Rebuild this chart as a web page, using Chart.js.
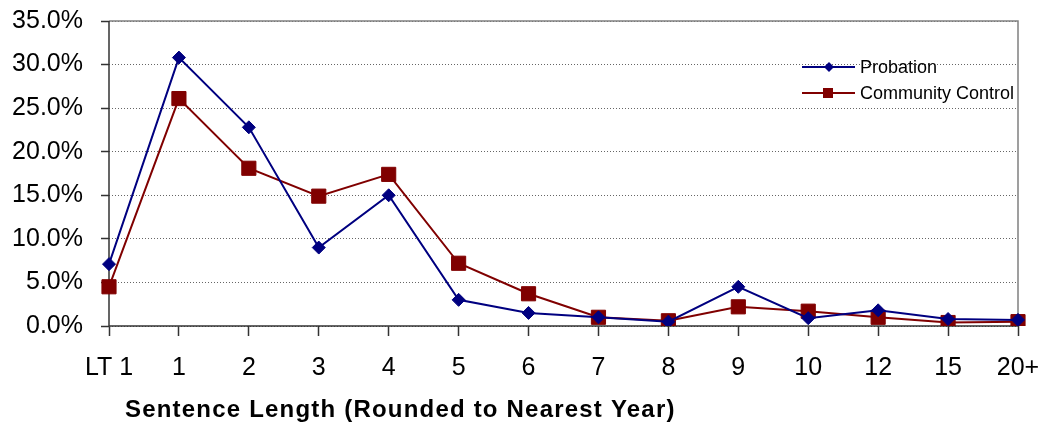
<!DOCTYPE html>
<html>
<head>
<meta charset="utf-8">
<script src="https://cdn.jsdelivr.net/npm/chart.js@4.4.0/dist/chart.umd.min.js"></script>
<style>
    html, body { margin: 0; padding: 0; background: #fff; }
    #wrap { width: 1041px; height: 423px; position: relative; }
</style>
</head>
<body>
<div id="wrap"><canvas id="sentence-chart"></canvas></div>
<script>
// Dados do gráfico
var categories = ['LT 1', '1', '2', '3', '4', '5', '6', '7', '8', '9', '10', '12', '15', '20+'];
var probation = [7.1, 30.8, 22.8, 9.0, 15.0, 3.0, 1.5, 1.0, 0.5, 4.5, 0.9, 1.8, 0.8, 0.7];
var communityControl = [4.5, 26.1, 18.1, 14.9, 17.4, 7.2, 3.7, 1.0, 0.6, 2.2, 1.7, 1.0, 0.4, 0.5];
var yTicks = [0, 5, 10, 15, 20, 25, 30, 35];
var seriesNames = ['Probation', 'Community Control'];
var axisTitle = 'Sentence Length (Rounded to Nearest Year)';

var FONT = 'Arial, "Liberation Sans", sans-serif';

/**
 * Zerar o espaço extra que as escalas pedem para os rótulos,
 * para que a área do gráfico dependa só do layout.padding
 */
function clearScalePadding(scale) {
    scale.paddingTop = 0;
    scale.paddingBottom = 0;
    scale.paddingLeft = 0;
    scale.paddingRight = 0;
}

/**
 * Moldura da área do gráfico (eixos e bordas), título do eixo e legenda
 */
var framePlugin = {
    id: 'frame',
    beforeDatasetsDraw: function(chart) {
        var a = chart.chartArea;
        var ctx = chart.ctx;
        ctx.save();
        ctx.setLineDash([]);
        // borda superior e direita em cinza
        ctx.strokeStyle = '#808080';
        ctx.lineWidth = 1.5;
        ctx.beginPath();
        ctx.moveTo(a.left, a.top);
        ctx.lineTo(a.right, a.top);
        ctx.lineTo(a.right, a.bottom);
        ctx.stroke();
        // eixos
        ctx.strokeStyle = '#333';
        ctx.lineWidth = 1.5;
        ctx.beginPath();
        ctx.moveTo(a.left, a.top);
        ctx.lineTo(a.left, a.bottom);
        ctx.lineTo(a.right, a.bottom);
        ctx.stroke();
        ctx.restore();
    },
    afterDraw: function(chart) {
        var ctx = chart.ctx;
        ctx.save();
        // título do eixo X
        ctx.fillStyle = '#000';
        ctx.font = 'bold 24px ' + FONT;
        ctx.letterSpacing = '1.2px';
        ctx.textAlign = 'left';
        ctx.textBaseline = 'alphabetic';
        ctx.fillText(axisTitle, 125, 417);
        ctx.letterSpacing = '0px';

        // legenda dentro da área do gráfico
        var rowsY = [67, 93];
        chart.data.datasets.forEach(function(ds, i) {
            var y = rowsY[i];
            ctx.strokeStyle = ds.borderColor;
            ctx.lineWidth = 2;
            ctx.beginPath();
            ctx.moveTo(802, y);
            ctx.lineTo(855, y);
            ctx.stroke();
            ctx.fillStyle = ds.borderColor;
            ctx.beginPath();
            if (ds.pointStyle === 'rectRot') {
                ctx.moveTo(829 - 5, y);
                ctx.lineTo(829, y - 5);
                ctx.lineTo(829 + 5, y);
                ctx.lineTo(829, y + 5);
                ctx.closePath();
            } else {
                ctx.rect(823, y - 5, 10, 10);
            }
            ctx.fill();
            ctx.fillStyle = '#000';
            ctx.font = '18px ' + FONT;
            ctx.textBaseline = 'middle';
            ctx.fillText(ds.label, 860, y + 1);
        });
        ctx.restore();
    }
};

function initSentenceChart() {
    var ctx = document.getElementById('sentence-chart').getContext('2d');

    new Chart(ctx, {
        type: 'line',
        data: {
            labels: categories,
            datasets: [
                {
                    label: seriesNames[0],
                    data: probation,
                    borderColor: '#000080',
                    backgroundColor: '#000080',
                    borderWidth: 2,
                    pointStyle: 'rectRot',
                    pointRadius: 6.5,
                    pointBorderWidth: 1,
                    pointBackgroundColor: '#000080',
                    pointBorderColor: '#000080',
                    tension: 0
                },
                {
                    label: seriesNames[1],
                    data: communityControl,
                    borderColor: '#800000',
                    backgroundColor: '#800000',
                    borderWidth: 2,
                    pointStyle: 'rect',
                    pointRadius: 10,
                    pointBorderWidth: 1,
                    pointBackgroundColor: '#800000',
                    pointBorderColor: '#800000',
                    tension: 0
                }
            ]
        },
        options: {
            responsive: true,
            maintainAspectRatio: false,
            animation: false,
            layout: {
                padding: { top: 21, right: 23, left: 0, bottom: 0 }
            },
            plugins: {
                legend: { display: false },
                tooltip: { enabled: false }
            },
            scales: {
                x: {
                    offset: false,
                    grid: {
                        drawOnChartArea: false,
                        drawTicks: true,
                        tickLength: 10,
                        tickColor: '#333',
                        tickWidth: 1.5
                    },
                    border: { display: false },
                    ticks: {
                        color: '#000',
                        padding: 17,
                        maxRotation: 0,
                        autoSkip: false,
                        font: { family: FONT, size: 25 }
                    },
                    afterFit: function(scale) {
                        scale.height = 97;
                        clearScalePadding(scale);
                    }
                },
                y: {
                    min: 0,
                    max: 35,
                    grid: {
                        color: '#666',
                        lineWidth: 1,
                        borderDash: [1, 2],
                        tickLength: 8,
                        tickColor: '#333',
                        tickWidth: 1.5,
                        tickBorderDash: []
                    },
                    border: { display: false, dash: [1, 2] },
                    ticks: {
                        color: '#000',
                        padding: 18,
                        font: { family: FONT, size: 25 },
                        callback: function(v) { return v.toFixed(1) + '%'; }
                    },
                    afterBuildTicks: function(scale) {
                        scale.ticks = yTicks.map(function(v) { return { value: v }; });
                    },
                    afterFit: function(scale) {
                        scale.width = 109;
                        clearScalePadding(scale);
                    }
                }
            }
        },
        plugins: [framePlugin]
    });
}

initSentenceChart();
</script>
</body>
</html>
